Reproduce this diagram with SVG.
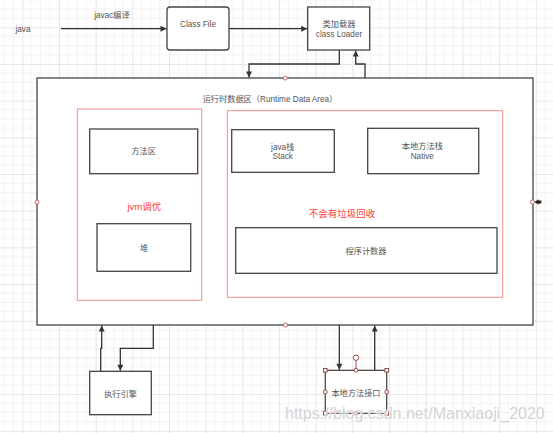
<svg xmlns="http://www.w3.org/2000/svg" width="553" height="433" viewBox="0 0 553 433">
<defs>
<pattern id="grid" patternUnits="userSpaceOnUse" x="22.3" y="27.3" width="36.68" height="36.68">
<path d="M9.17 0V36.68M18.34 0V36.68M27.51 0V36.68M0 9.17H36.68M0 18.34H36.68M0 27.51H36.68" stroke="#f2f2f2" stroke-width="1" fill="none"/>
<path d="M0.5 0V36.68M0 0.5H36.68" stroke="#e6e6e6" stroke-width="1" fill="none"/>
</pattern>
<marker id="arr" viewBox="0 0 10 10" refX="10" refY="5" markerWidth="7" markerHeight="6" markerUnits="userSpaceOnUse" orient="auto">
<path d="M0 0L10 5L0 10z" fill="#333"/>
</marker>
<style>
text{font-family:"Liberation Sans","Noto Sans CJK SC",sans-serif;font-size:8.2px;fill:#555;text-anchor:middle}
.box{fill:#fff;stroke:#444;stroke-width:1.3}
.red{fill:#fff;stroke:#f28b8b;stroke-width:1}
.rt{fill:#ff4040;font-size:9.5px}
.con{fill:none;stroke:#333;stroke-width:1.3;marker-end:url(#arr)}
.pt{fill:#fff;stroke:#c05a5a;stroke-width:0.9}
.h{fill:#fff;stroke:#8b3a3a;stroke-width:0.9}
</style>
</defs>
<rect width="553" height="433" fill="#fff"/>
<rect width="553" height="433" fill="url(#grid)"/>

<g id="java-label"><text x="23" y="32">java</text></g>
<g id="classfile"><rect class="box" x="167" y="7" width="62" height="43" rx="3"/><text x="198" y="27">Class File</text></g>
<g id="classloader"><rect class="box" x="307.7" y="7" width="62" height="43"/><text x="339" y="27">类加载器</text><text x="339" y="37">class Loader</text></g>

<g id="runtime">
<rect class="box" x="37" y="78" width="496" height="247"/>
<text x="270" y="102">运行时数据区（Runtime Data Area）</text>
<circle class="pt" cx="285.3" cy="78" r="2"/>
<circle class="pt" cx="37" cy="202" r="2"/>
<circle class="pt" cx="285.3" cy="325" r="2"/>
<circle class="pt" cx="532.5" cy="202" r="2"/>
<path d="M534.5 202L538.5 199.3V200.6H541.3V203.4H538.5V204.7Z" fill="#222"/>
</g>

<g id="left-area"><rect class="red" x="77.3" y="109" width="124.4" height="191.3"/><text class="rt" x="144.3" y="210">jvm调优</text></g>
<g id="method-area"><rect class="box" x="89.7" y="129" width="108" height="44.7"/><text x="143.7" y="154">方法区</text></g>
<g id="heap"><rect class="box" x="97" y="223.7" width="93.7" height="47.6"/><text x="144" y="250.5">堆</text></g>

<g id="right-area"><rect class="red" x="227.3" y="110.7" width="275.4" height="186.6"/><text class="rt" x="342" y="217">不会有垃圾回收</text></g>
<g id="java-stack"><rect class="box" x="231.7" y="129.7" width="102.6" height="42.6"/><text x="282.7" y="149.7">java栈</text><text x="282.7" y="159">Stack</text></g>
<g id="native-stack"><rect class="box" x="367.7" y="128.3" width="111" height="45.4"/><text x="422.3" y="149">本地方法栈</text><text x="422.3" y="159">Native</text></g>
<g id="pc"><rect class="box" x="235.7" y="227.7" width="261.3" height="45.6"/><text x="366" y="254">程序计数器</text></g>

<g id="engine"><rect class="box" x="89.7" y="371.3" width="61.6" height="43.4"/><text x="120.5" y="397">执行引擎</text></g>

<g id="native-interface">
<rect x="325.3" y="370.3" width="61.4" height="43" fill="#fff" stroke="#4a3838" stroke-width="1.2"/>
<text x="356" y="395.5">本地方法接口</text>
<line x1="356" y1="360.4" x2="356" y2="370.3" stroke="#8b3a3a" stroke-width="0.9"/>
<circle class="h" cx="356" cy="357.7" r="2.7"/>
<rect class="h" x="323.5" y="368.5" width="3.6" height="3.6"/>
<rect class="h" x="384.9" y="368.5" width="3.6" height="3.6"/>
<rect class="h" x="323.5" y="411.5" width="3.6" height="3.6"/>
<rect class="h" x="384.9" y="411.5" width="3.6" height="3.6"/>
<circle class="h" cx="356" cy="370.3" r="1.9"/>
<circle class="h" cx="356" cy="413.3" r="1.9"/>
<circle class="h" cx="325.3" cy="392" r="1.9"/>
<circle class="h" cx="386.7" cy="392" r="1.9"/>
</g>

<g id="connectors">
<path class="con" d="M61 28.7H166.5"/>
<text x="112" y="18">javac编译</text>
<path class="con" d="M229 28.7H307.2"/>
<path class="con" d="M339.3 50V64H249V77.5"/>
<path class="con" d="M365 78V64H355.7V50.5"/>
<path class="con" d="M153.3 325V348.3H120.3V370.8"/>
<path class="con" d="M100.7 371.3V348.3H101.7V325.5"/>
<path class="con" d="M339.3 325V369.8"/>
<path class="con" d="M374.7 370.3V325.5"/>
</g>

<text x="285" y="419" style="font-size:16px;text-anchor:start;fill:#cfcfcf;stroke:#fff;stroke-width:1.2;paint-order:stroke;opacity:0.9">https://blog.csdn.net/Manxiaoji_2020</text>
</svg>
